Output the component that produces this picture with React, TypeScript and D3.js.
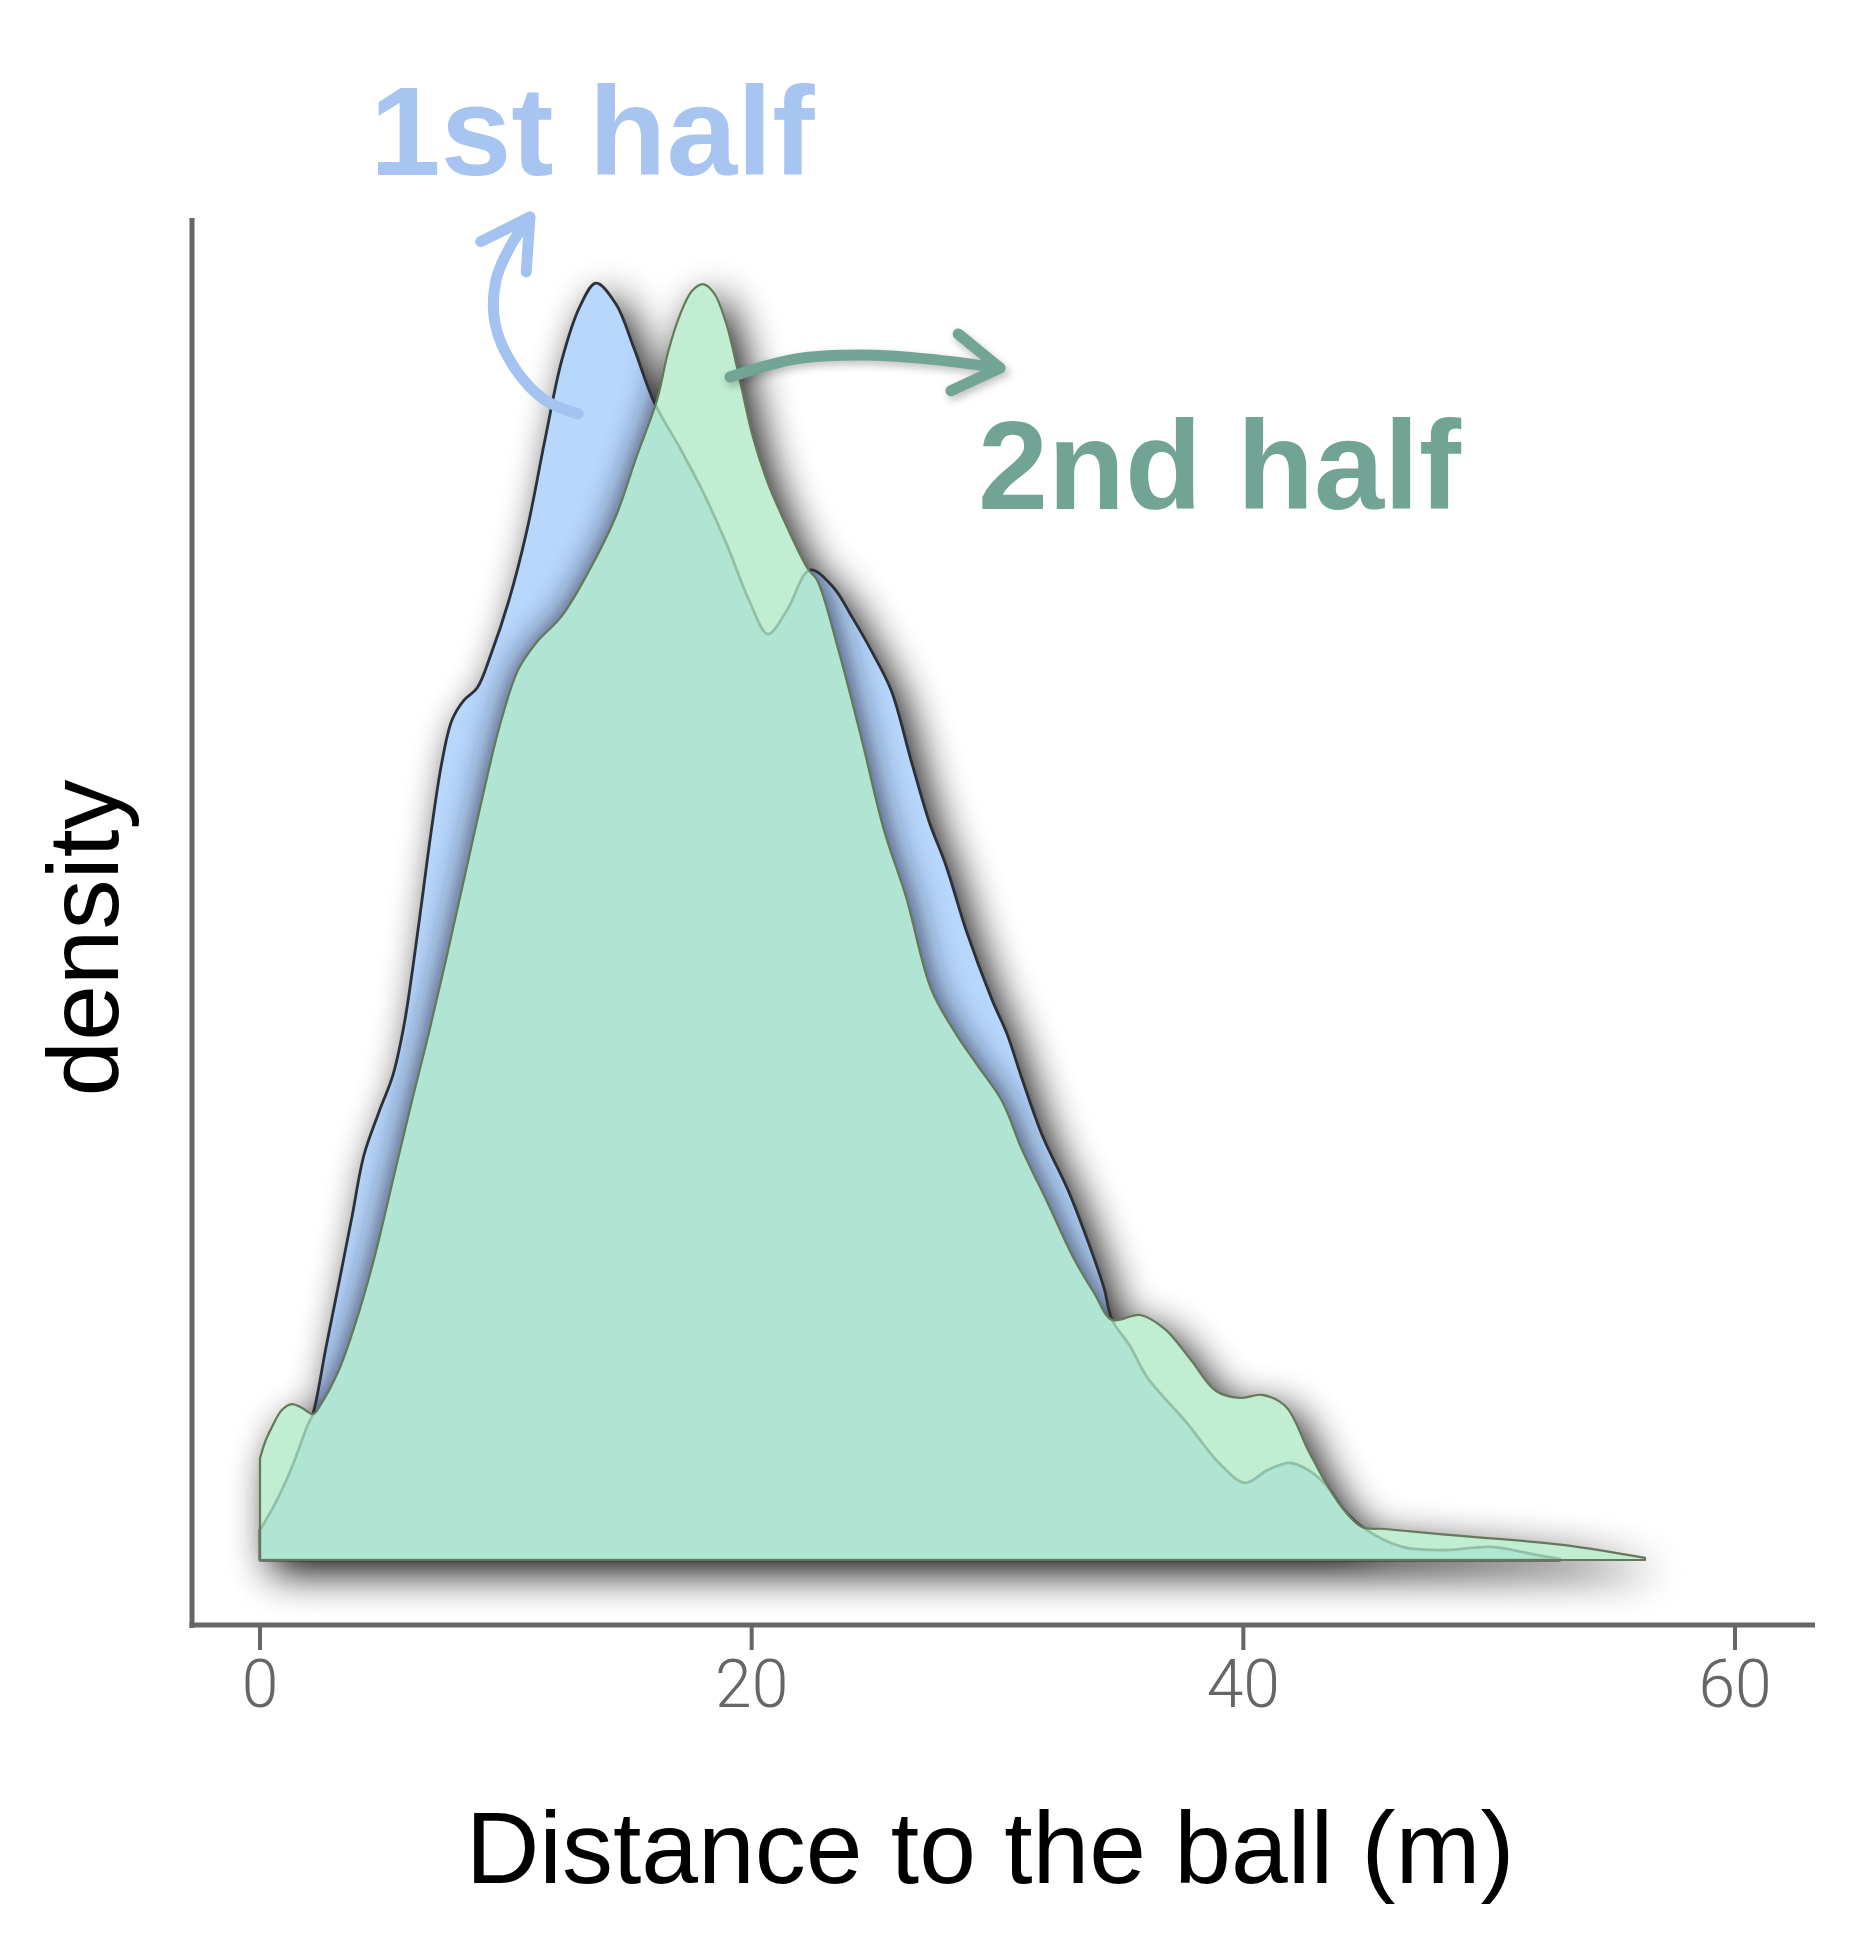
import * as d3 from "d3";

// 1st half: distance (m) and density
const firstHalfDistance = [
  0, 0.69, 1.3, 1.91, 2.16, 2.68, 3.21, 3.74, 4.23, 4.84, 5.41, 5.86, 6.22, 6.59, 6.96, 7.4, 7.81,
  8.3, 8.83, 9.4, 10.13, 10.86, 11.59, 12.28, 13.02, 13.67, 14.48, 15.21, 16.03, 17.08, 18.02,
  18.96, 19.89, 20.66, 21.44, 22.37, 23.31, 24.08, 24.85, 25.67, 26.48, 27.21, 27.91, 28.72, 29.78,
  30.39, 31.0, 31.85, 32.87, 33.72, 34.33, 34.66, 35.39, 36.08, 37.71, 39.01, 40.07, 41.0, 41.9,
  42.63, 43.36, 44.1, 44.83, 46.46, 48.25, 50.08, 51.91, 52.88,
];
const firstHalfDensity = [
  0.00117, 0.00234, 0.00363, 0.0052, 0.00574, 0.00828, 0.01082, 0.0134, 0.01582, 0.0175, 0.01895,
  0.0209, 0.02316, 0.02578, 0.02844, 0.03117, 0.03281, 0.03359, 0.03406, 0.03539, 0.0375, 0.04023,
  0.04375, 0.04688, 0.04898, 0.04988, 0.04906, 0.04734, 0.04523, 0.04344, 0.04172, 0.03973, 0.0375,
  0.03617, 0.03711, 0.03867, 0.03801, 0.03684, 0.03555, 0.03398, 0.03125, 0.02887, 0.02711, 0.02461,
  0.02188, 0.02055, 0.01879, 0.01652, 0.01445, 0.01234, 0.01063, 0.00938, 0.00836, 0.00715, 0.00535,
  0.00379, 0.00301, 0.00352, 0.00379, 0.00352, 0.00293, 0.00195, 0.00129, 0.00051, 0.00039, 0.00051,
  0.0002, 0.00004,
];

// 2nd half: distance (m) and density
const secondHalfDistance = [
  0, 0.24, 0.49, 0.89, 1.3, 1.71, 2.16, 2.48, 3.21, 3.95, 4.68, 5.41, 6.14, 6.87, 7.61, 8.34, 9.07,
  9.76, 10.5, 11.23, 12.28, 13.38, 14.48, 15.3, 16.15, 16.6, 17.08, 17.57, 18.02, 18.47, 18.96, 19.4,
  20.05, 20.66, 21.44, 22.29, 22.66, 23.55, 24.49, 25.38, 26.28, 27.3, 28.31, 29.17, 30.18, 31.0,
  32.06, 33.07, 33.93, 34.66, 35.8, 36.81, 37.87, 38.89, 39.86, 40.76, 41.74, 42.63, 43.36, 44.1,
  44.83, 45.76, 48.85, 53.0, 56.34,
];
const secondHalfDensity = [
  0.00398, 0.00469, 0.0052, 0.00586, 0.00609, 0.00594, 0.0057, 0.00609, 0.00742, 0.00945, 0.01191,
  0.01484, 0.01777, 0.02059, 0.02363, 0.02676, 0.02988, 0.03262, 0.03477, 0.03582, 0.03688, 0.03863,
  0.04078, 0.04305, 0.04531, 0.04719, 0.04863, 0.04957, 0.04984, 0.04949, 0.04832, 0.0466, 0.04387,
  0.04207, 0.04035, 0.03871, 0.03828, 0.03547, 0.03199, 0.02852, 0.0259, 0.0223, 0.02055, 0.01934,
  0.01793, 0.01602, 0.01391, 0.01184, 0.01043, 0.00938, 0.00957, 0.00902, 0.00781, 0.0066, 0.00633,
  0.00645, 0.00598, 0.0043, 0.00301, 0.00195, 0.00129, 0.00121, 0.00094, 0.00059, 0.00008,
];

const xTicks = [0, 20, 40, 60];

// annotation arrows, in data units (distance, density)
const firstArrowPath: [number, number][] = [
  [12.94, 0.04477], [11.59, 0.04531], [10.33, 0.0466], [9.56, 0.04832], [9.6, 0.05], [10.17, 0.05129], [10.98, 0.05246],
];
const secondArrowPath: [number, number][] = [
  [19.12, 0.04621], [21.76, 0.04691], [24.49, 0.04707], [27.21, 0.04691], [30.1, 0.04656],
];

const W = 1876;
const H = 1941;

const x = d3.scaleLinear().domain([0, 60]).range([260, 1735]);
const y = d3.scaleLinear().domain([0, 0.05]).range([1560, 280]);

const area = d3
  .area<[number, number]>()
  .x((d) => x(d[0]))
  .y0(y(0))
  .y1((d) => y(d[1]))
  .curve(d3.curveCatmullRom.alpha(0.5));

const arrowLine = d3
  .line<[number, number]>()
  .x((d) => x(d[0]))
  .y((d) => y(d[1]))
  .curve(d3.curveCatmullRom.alpha(0.5));

// open chevron at the end of an arrow
function arrowHead(pts: [number, number][], len: number, ang: number) {
  const a = pts[pts.length - 2];
  const b = pts[pts.length - 1];
  const tx = x(b[0]);
  const ty = y(b[1]);
  const dx = tx - x(a[0]);
  const dy = ty - y(a[1]);
  const t = Math.atan2(dy, dx) + Math.PI;
  const p1 = [tx + len * Math.cos(t - ang), ty + len * Math.sin(t - ang)];
  const p2 = [tx + len * Math.cos(t + ang), ty + len * Math.sin(t + ang)];
  return `M${p1[0]},${p1[1]}L${tx},${ty}L${p2[0]},${p2[1]}`;
}

export default function App() {
  const blue = area(firstHalfDistance.map((d, i) => [d, firstHalfDensity[i]]) as [number, number][]) || "";
  const green = area(secondHalfDistance.map((d, i) => [d, secondHalfDensity[i]]) as [number, number][]) || "";

  const font = "'Liberation Sans', Arial, Helvetica, sans-serif";

  return (
    <svg width={W} height={H} style={{ position: "absolute", left: 0, top: 0, background: "#fff" }}>
      <defs>
        <filter id="blur" x="-15%" y="-15%" width="130%" height="130%">
          <feGaussianBlur stdDeviation="21" />
        </filter>
        <filter id="blur2" x="-15%" y="-15%" width="130%" height="130%">
          <feGaussianBlur stdDeviation="17" />
        </filter>
        <filter id="soft" x="-20%" y="-20%" width="140%" height="140%">
          <feGaussianBlur stdDeviation="4" />
        </filter>
        <clipPath id="blueClip">
          <path d={blue} />
        </clipPath>
        <mask id="outside" maskUnits="userSpaceOnUse" x="0" y="0" width={W} height={H}>
          <rect width={W} height={H} fill="#fff" />
          <path d={blue} fill="#000" />
          <path d={green} fill="#000" />
        </mask>
        <mask id="notGreen" maskUnits="userSpaceOnUse" x="0" y="0" width={W} height={H}>
          <rect width={W} height={H} fill="#fff" />
          <path d={green} fill="#000" />
        </mask>
      </defs>

      {/* shadow on the white background */}
      <g mask="url(#outside)">
        <g filter="url(#blur)" transform="translate(11,13)" opacity={0.95}>
          <path d={blue} fill="#000" />
          <path d={green} fill="#000" />
        </g>
      </g>

      {/* 1st half */}
      <path d={blue} fill="#b8d7fc" />
      {/* shadow of 2nd half falling on 1st half */}
      <g clipPath="url(#blueClip)">
        <g mask="url(#notGreen)">
          <g filter="url(#blur2)" transform="translate(1,3)">
            <path d={green} fill="#1a2238" />
          </g>
        </g>
      </g>
      <path d={blue} fill="none" stroke="#2c3038" strokeWidth={2.8} strokeLinejoin="round" />

      {/* 2nd half */}
      <path d={green} fill="#b0e9c7" fillOpacity={0.78} stroke="#66775c" strokeWidth={2.2} strokeLinejoin="round" />

      {/* axes */}
      <line x1={192} x2={192} y1={218} y2={1628} stroke="#666" strokeWidth={5} />
      <line x1={189.5} x2={1815} y1={1625} y2={1625} stroke="#666" strokeWidth={5} />
      {xTicks.map((t) => (
        <g key={t}>
          <line x1={x(t)} x2={x(t)} y1={1625} y2={1650} stroke="#666" strokeWidth={4} />
          <text x={x(t)} y={1707} textAnchor="middle" fontFamily="Roboto, 'Liberation Sans', sans-serif" fontWeight={300} fontSize={66} fill="#666">
            {t}
          </text>
        </g>
      ))}
      <text x={990} y={1883} textAnchor="middle" fontFamily={font} fontSize={102} fill="#000">
        Distance to the ball (m)
      </text>
      <text transform="translate(118,938) rotate(-90)" textAnchor="middle" fontFamily={font} fontSize={100} fill="#000">
        density
      </text>

      {/* annotations, with a faint shadow */}
      <g filter="url(#soft)" opacity={0.25} transform="translate(2,4)">
        <path d={arrowLine(secondArrowPath) || ""} fill="none" stroke="#000" strokeWidth={11} strokeLinecap="round" />
        <path d={arrowHead(secondArrowPath, 54, 0.56)} fill="none" stroke="#000" strokeWidth={11} strokeLinecap="round" />
      </g>
      <path d={arrowLine(firstArrowPath) || ""} fill="none" stroke="#a4c3f0" strokeWidth={11} strokeLinecap="round" />
      <path d={arrowHead(firstArrowPath, 55, 0.52)} fill="none" stroke="#a4c3f0" strokeWidth={11} strokeLinecap="round" strokeLinejoin="round" />
      <path d={arrowLine(secondArrowPath) || ""} fill="none" stroke="#72a596" strokeWidth={11} strokeLinecap="round" />
      <path d={arrowHead(secondArrowPath, 54, 0.56)} fill="none" stroke="#72a596" strokeWidth={11} strokeLinecap="round" strokeLinejoin="round" />

      <text x={370} y={175} fontFamily={font} fontWeight="bold" fontSize={127} fill="#a7c5f0">
        1st half
      </text>
      <text x={978} y={509} fontFamily={font} fontWeight="bold" fontSize={126} fill="#72a496">
        2nd half
      </text>
    </svg>
  );
}
